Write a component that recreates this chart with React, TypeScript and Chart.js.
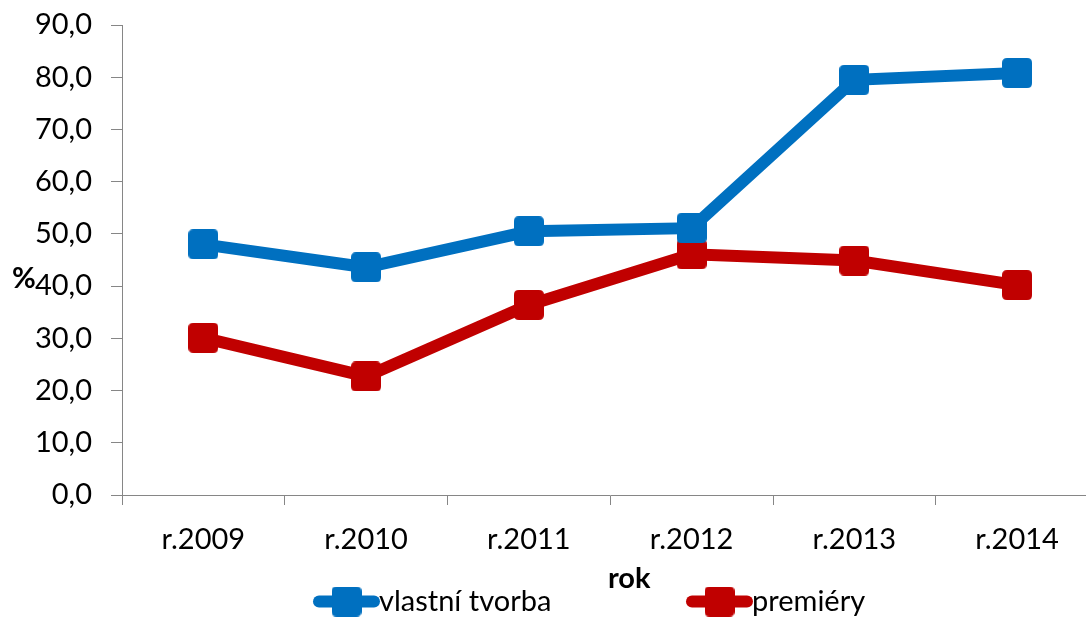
import React, { useEffect, useRef } from "react";
import { Chart, registerables } from "chart.js";

Chart.register(...registerables);

const categories = ["r.2009", "r.2010", "r.2011", "r.2012", "r.2013", "r.2014"];
const seriesNames = ["vlastní tvorba", "premiéry"];
const vlastniTvorba = [48.0, 43.6, 50.5, 51.1, 79.5, 80.8];
const premiery = [30.1, 22.7, 36.4, 46.1, 44.9, 40.2];
const seriesColors = ["#0070C0", "#C00000"];
const xTitle = "rok";
const yTitle = "%";

const FONT = "Lato, 'Open Sans', sans-serif";
const FS = 29;

function makeMarker(color: string, w: number, h: number, r: number) {
  const c = document.createElement("canvas");
  c.width = w;
  c.height = h;
  const ctx = c.getContext("2d")!;
  ctx.fillStyle = color;
  ctx.beginPath();
  ctx.moveTo(r, 0);
  ctx.lineTo(w - r, 0);
  ctx.quadraticCurveTo(w, 0, w, r);
  ctx.lineTo(w, h - r);
  ctx.quadraticCurveTo(w, h, w - r, h);
  ctx.lineTo(r, h);
  ctx.quadraticCurveTo(0, h, 0, h - r);
  ctx.lineTo(0, r);
  ctx.quadraticCurveTo(0, 0, r, 0);
  ctx.closePath();
  ctx.fill();
  return c;
}

const titlesPlugin = {
  id: "axisTitles",
  afterDraw(chart: any) {
    const { ctx, chartArea } = chart;
    const y = chart.scales.y;
    ctx.save();
    ctx.fillStyle = "#000";
    ctx.textBaseline = "alphabetic";
    // y-axis title, horizontal
    ctx.font = `bold ${FS}px ${FONT}`;
    ctx.textAlign = "left";
    ctx.fillText(yTitle, 12, y.getPixelForValue(40) + 2);
    // x-axis title
    ctx.textAlign = "center";
    ctx.fillText(xTitle, (chartArea.left + chartArea.right) / 2 + 19, 588);
    ctx.restore();
  },
};

const legendPlugin = {
  id: "lineLegend",
  afterDraw(chart: any) {
    const { ctx } = chart;
    ctx.save();
    ctx.font = `${FS}px ${FONT}`;
    const sampleW = 63;
    const gapText = 1;
    const starts = [315, 688];
    const cy = 601.5;
    chart.data.datasets.forEach((d: any, i: number) => {
      const x = starts[i];
      ctx.strokeStyle = d.borderColor;
      ctx.lineWidth = 12;
      ctx.lineCap = "round";
      ctx.beginPath();
      ctx.moveTo(x + 4, cy);
      ctx.lineTo(x + sampleW - 4, cy);
      ctx.stroke();
      const m = d.pointStyle as HTMLCanvasElement;
      ctx.drawImage(m, x + sampleW / 2 - m.width / 2, cy - m.height / 2);
      ctx.fillStyle = "#000";
      ctx.textAlign = "left";
      ctx.textBaseline = "alphabetic";
      ctx.fillText(d.label, x + sampleW + gapText, 611);
    });
    ctx.restore();
  },
};

export default function App() {
  const ref = useRef<HTMLCanvasElement | null>(null);

  useEffect(() => {
    if (!ref.current) return;
    const markers = seriesColors.map((c) => makeMarker(c, 30, 30, 5));
    const chart = new Chart(ref.current, {
      type: "line",
      data: {
        labels: categories,
        datasets: [
          {
            label: seriesNames[0],
            data: vlastniTvorba,
            borderColor: seriesColors[0],
            backgroundColor: seriesColors[0],
            borderWidth: 12,
            pointStyle: markers[0] as any,
            pointRadius: 15,
            pointBorderWidth: 0,
            tension: 0,
          },
          {
            label: seriesNames[1],
            data: premiery,
            borderColor: seriesColors[1],
            backgroundColor: seriesColors[1],
            borderWidth: 12,
            pointStyle: markers[1] as any,
            pointRadius: 15,
            pointBorderWidth: 0,
            tension: 0,
          },
        ],
      },
      options: {
        animation: false,
        responsive: true,
        maintainAspectRatio: false,
        devicePixelRatio: 1,
        layout: { autoPadding: false, padding: { top: 25, right: 1.5, left: 0, bottom: 19 } },
        plugins: {
          legend: { display: false },
          tooltip: { enabled: false },
        },
        scales: {
          x: {
            offset: true,
            grid: {
              display: true,
              offset: true,
              drawOnChartArea: false,
              tickLength: 10,
              color: "#868686",
            },
            border: { display: true, color: "#868686", width: 1 },
            ticks: {
              color: "#000",
              font: { family: FONT, size: FS },
              padding: 17,
              maxRotation: 0,
            },
            title: { display: false, text: xTitle },
            afterFit: (s: any) => {
              s.height = 103;
              s.paddingLeft = 0;
              s.paddingRight = 0;
            },
          },
          y: {
            min: 0,
            max: 90,
            grid: {
              display: true,
              drawOnChartArea: false,
              tickLength: 11,
              color: "#868686",
            },
            border: { display: true, color: "#868686", width: 1 },
            ticks: {
              stepSize: 10,
              color: "#000",
              font: { family: FONT, size: FS },
              padding: 19,
              callback: (v: any) => Number(v).toFixed(1).replace(".", ","),
            },
            afterFit: (s: any) => {
              s.width = 122;
              s.paddingTop = 0;
              s.paddingBottom = 0;
            },
          },
        },
      },
      plugins: [titlesPlugin, legendPlugin],
    });
    return () => chart.destroy();
  }, []);

  return (
    <div
      style={{
        position: "absolute",
        left: 0,
        top: 0,
        width: 1086,
        height: 617,
        overflow: "hidden",
        background: "#fff",
      }}
    >
      <div style={{ position: "relative", width: 1100, height: 617 }}>
        <canvas ref={ref} />
      </div>
    </div>
  );
}
